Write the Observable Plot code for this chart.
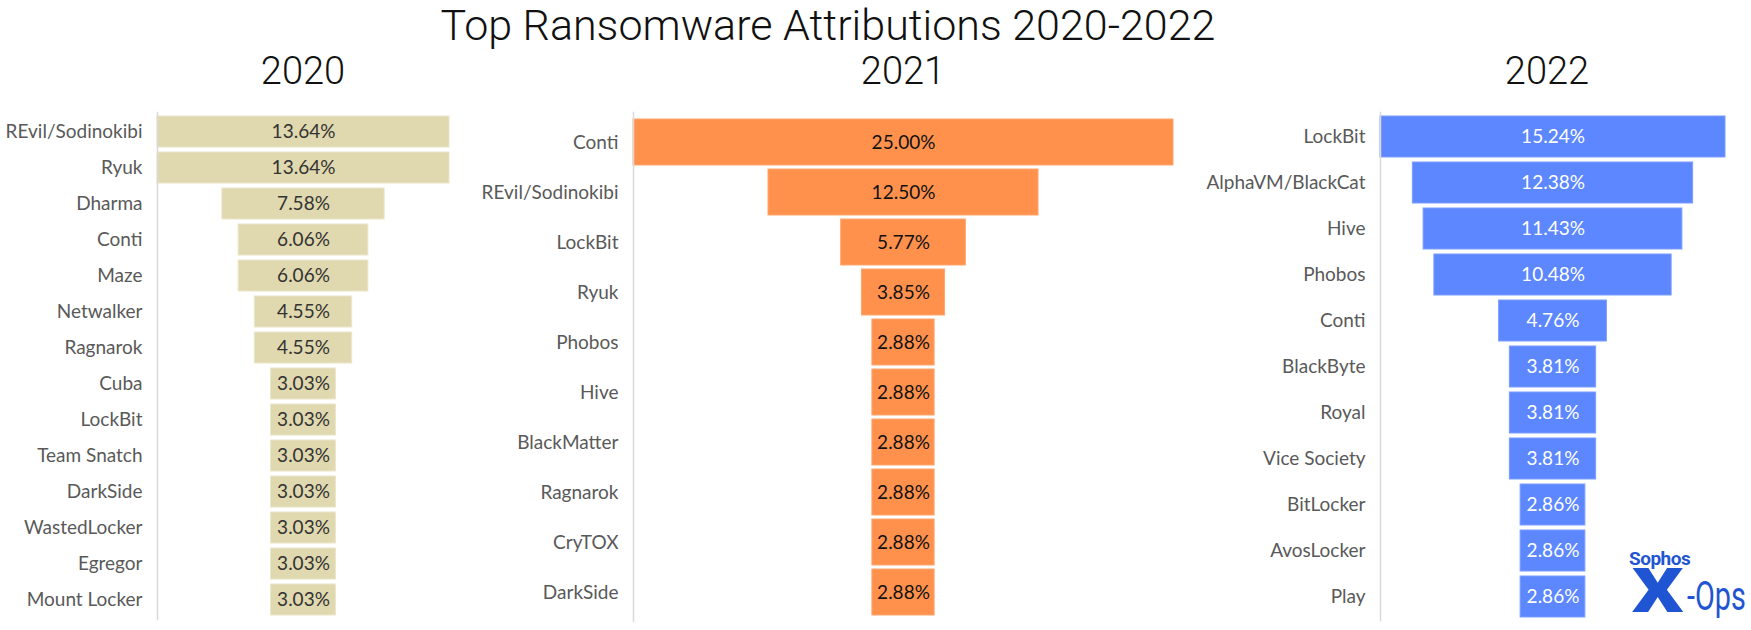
<!DOCTYPE html>
<html><head><meta charset="utf-8">
<script src="https://cdn.jsdelivr.net/npm/d3@7"></script>
<script src="https://cdn.jsdelivr.net/npm/@observablehq/plot@0.6"></script>
<style>
body{margin:0;background:#fff;}
#root{position:relative;width:1751px;height:630px;overflow:hidden;background:#fff;font-family:Lato,sans-serif;}
.title{position:absolute;top:0px;left:328px;width:1000px;text-align:center;font:300 43px/50px Roboto,sans-serif;color:#111;white-space:nowrap;}
.year{position:absolute;top:48px;width:200px;text-align:center;font:300 38px/46px Roboto,sans-serif;color:#111;}
.panel{position:absolute;top:100px;}
.logo{position:absolute;color:#1f55d2;font-family:Roboto,sans-serif;white-space:nowrap;transform-origin:left top;}
</style></head><body>
<div id="root">
  <div class="title">Top Ransomware Attributions 2020-2022</div>
  <div class="year" style="left:203px">2020</div>
  <div class="year" style="left:803px">2021</div>
  <div class="year" style="left:1447px">2022</div>
  <div id="p1" class="panel" style="left:0px"></div>
  <div id="p2" class="panel" style="left:460px"></div>
  <div id="p3" class="panel" style="left:1200px"></div>
  <div class="logo" style="left:1629px;top:548px;font-weight:700;font-size:19px;line-height:22px;letter-spacing:-0.5px">Sophos</div>
  <div class="logo" style="left:1632px;top:554px;font-weight:900;font-size:62px;line-height:73px;transform:scaleX(1.3)">X</div>
  <div class="logo" style="left:1687px;top:573px;font-weight:400;font-size:40px;line-height:47px;transform:scaleX(0.72)">-Ops</div>
</div>
<script>
const names2020 = ["REvil/Sodinokibi","Ryuk","Dharma","Conti","Maze","Netwalker","Ragnarok","Cuba","LockBit","Team Snatch","DarkSide","WastedLocker","Egregor","Mount Locker"];
const values2020 = [13.64,13.64,7.58,6.06,6.06,4.55,4.55,3.03,3.03,3.03,3.03,3.03,3.03,3.03];
const names2021 = ["Conti","REvil/Sodinokibi","LockBit","Ryuk","Phobos","Hive","BlackMatter","Ragnarok","CryTOX","DarkSide"];
const values2021 = [25.00,12.50,5.77,3.85,2.88,2.88,2.88,2.88,2.88,2.88];
const names2022 = ["LockBit","AlphaVM/BlackCat","Hive","Phobos","Conti","BlackByte","Royal","Vice Society","BitLocker","AvosLocker","Play"];
const values2022 = [15.24,12.38,11.43,10.48,4.76,3.81,3.81,3.81,2.86,2.86,2.86];

function panel(o) {
  const data = o.names.map((n, i) => ({name: n, value: o.values[i]}));
  const max = d3.max(o.values);
  return Plot.plot({
    width: o.width, height: 530,
    marginLeft: o.axisX - o.left, marginRight: o.left + o.width - o.right,
    marginTop: o.frameTop - 100, marginBottom: 630 - o.frameBottom,
    x: {domain: [-max / 2, max / 2], axis: null},
    y: {domain: o.names, paddingInner: o.pi, paddingOuter: o.po, label: null},
    style: {fontFamily: "Lato, sans-serif", fontSize: "19px", color: "#595959", background: "transparent", overflow: "visible"},
    marks: [
      Plot.barX(data, {y: "name", x1: d => -d.value / 2, x2: d => d.value / 2, fill: o.fill, stroke: o.stroke, strokeWidth: 1}),
      Plot.frame({anchor: "left", stroke: "#d9d9d9", strokeWidth: 1.5}),
      Plot.text(data, {y: "name", x: 0, text: d => d.value.toFixed(2) + "%", fill: o.textFill, fontSize: 19}),
      Plot.axisY({tickSize: 0, tickPadding: 15, fontSize: 19, label: null})
    ]
  });
}

document.getElementById("p1").append(panel({names: names2020, values: values2020, left: 0, width: 460, axisX: 157, right: 449,
  frameTop: 112, frameBottom: 619, pi: 0.14, po: 0.055, fill: "#e0d8ae", stroke: "#ebe6cb", textFill: "#333333"}));
document.getElementById("p2").append(panel({names: names2021, values: values2021, left: 460, width: 740, axisX: 633, right: 1173,
  frameTop: 112, frameBottom: 621, pi: 0.09, po: 0.04, fill: "#ff914d", stroke: "#ffa56e", textFill: "#111111"}));
document.getElementById("p3").append(panel({names: names2022, values: values2022, left: 1200, width: 551, axisX: 1380, right: 1725,
  frameTop: 112, frameBottom: 620, pi: 0.11, po: 0.065, fill: "#5c87ff", stroke: "#7b9dff", textFill: "#ffffff"}));
</script>
</body></html>
